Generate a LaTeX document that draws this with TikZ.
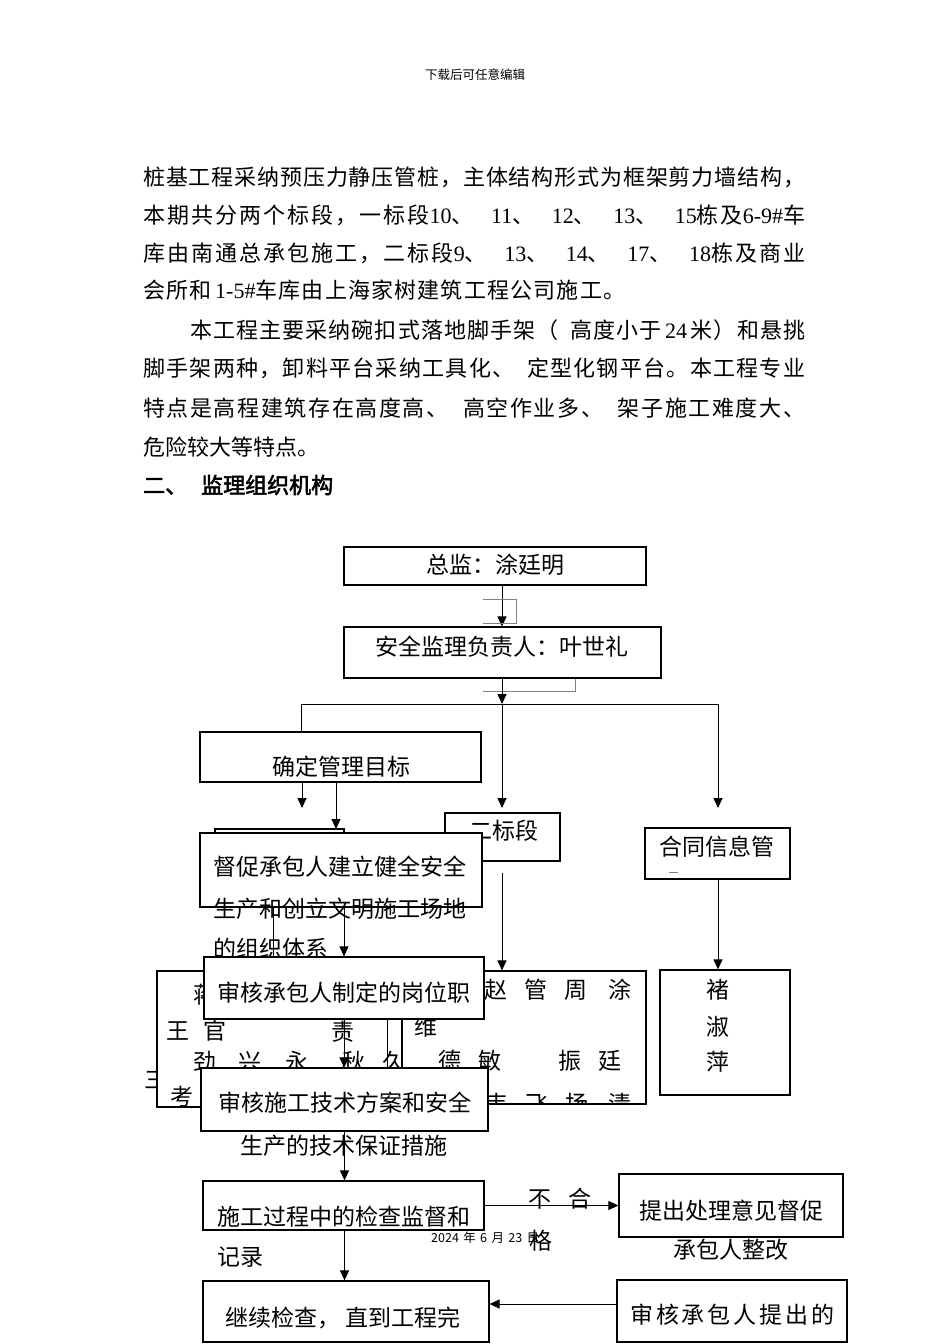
\documentclass[tikz,border=0pt]{standalone}
\usepackage{fontspec}
\setmainfont{Liberation Serif}
\newfontfamily\cjk{Noto Sans CJK SC}
\newfontfamily\cjkb{Noto Sans CJK SC}[FakeBold=2.5]
\usetikzlibrary{arrows.meta}
\newcommand\nm[1]{{\rmfamily #1}}
\newXeTeXintercharclass\mycjkclass
\count255="4E00
\loop
  \XeTeXcharclass\count255=\mycjkclass
  \advance\count255 by 1
\ifnum\count255<"A000 \repeat
\XeTeXcharclass"3001=\mycjkclass
\XeTeXcharclass"3002=\mycjkclass
\XeTeXcharclass"FF0C=\mycjkclass
\XeTeXcharclass"FF08=\mycjkclass
\XeTeXcharclass"FF09=\mycjkclass
\XeTeXcharclass"FF1A=\mycjkclass
\XeTeXinterchartoks\mycjkclass\mycjkclass={\hskip0pt plus 0.4pt\relax}
\XeTeXinterchartoks\mycjkclass 0={\hskip0pt plus 0.4pt\relax}
\XeTeXinterchartoks 0\mycjkclass={\hskip0pt plus 0.4pt\relax}
\XeTeXinterchartokenstate=1
\begin{document}
\begin{tikzpicture}[x=1pt,y=-1pt,
  box/.style={draw,line width=1.2pt,fill=white,inner sep=0pt},
  T/.style={inner sep=0pt,text height={0.88*#1pt},text depth={0.12*#1pt},font=\cjk\fontsize{#1}{#1}\selectfont},
  T/.default=23,
  body/.style={T=22,anchor=west},
  arr/.style={line width=1pt,-{Triangle[length=10pt,width=9pt]}},
  ln/.style={line width=1pt},
  gr/.style={line width=1pt,draw=gray}]
\useasboundingbox[fill=white] (0,0) rectangle (950,1344);

% header and body
\node[T=12.5] (hdr) at (475,75) {下载后可任意编辑};
\node[body] (l1) at (143,177) {\makebox[662pt][s]{桩基工程采纳预压力静压管桩，主体结构形式为框架剪力墙结构，}};
\node[body] (l2) at (143,215) {\makebox[662pt][s]{本期共分两个标段，一标段\nm{10}、 \nm{11}、 \nm{12}、 \nm{13}、 \nm{15}栋及\nm{6-9\#}车}};
\node[body] (l3) at (143,253) {\makebox[662pt][s]{库由南通总承包施工，二标段\nm{9}、 \nm{13}、 \nm{14}、 \nm{17}、 \nm{18}栋及商业}};
\node[body] (l4) at (143,290) {\makebox[482pt][s]{会所和\,\nm{1-5\#}车库由上海家树建筑工程公司施工。}};
\node[body] (l5) at (190,330) {\makebox[615pt][s]{本工程主要采纳碗扣式落地脚手架（ 高度小于\,\nm{24}\,米）和悬挑}};
\node[body] (l6) at (143,368) {\makebox[662pt][s]{脚手架两种，卸料平台采纳工具化、 定型化钢平台。本工程专业}};
\node[body] (l7) at (143,408) {\makebox[662pt][s]{特点是高程建筑存在高度高、 高空作业多、 架子施工难度大、}};
\node[body] (l8) at (143,447) {危险较大等特点。};
\node[body,font=\cjkb\fontsize{22}{22}\selectfont] (l9) at (143,485) {二、\hspace{14pt}监理组织机构};
\node[T] (san) at (156,1080) {三};

% name boxes (behind)
\node[box,minimum width=245pt,minimum height=136pt] (lr) at (279.5,1039) {};
\node[box,minimum width=244pt,minimum height=133pt] (mr) at (524,1037.5) {};
\node[box,minimum width=130pt,minimum height=125pt] (rr) at (725,1032.5) {};
\begin{scope}
\clip (lr.north west) rectangle (lr.south east);
\node[T] (n1) at (205,995) {蒋};
\node[T] (n2) at (178,1031) {王};
\node[T] (n3) at (215,1031) {官};
\node[T] (n4) at (205,1062) {劲};
\node[T] (n5) at (250,1062) {兴};
\node[T] (n6) at (297,1062) {永};
\node[T] (n7) at (354,1062) {秋};
\node[T] (n8) at (394,1062) {久};
\node[T] (n9) at (182,1097) {考};
\end{scope}
\begin{scope}
\clip (mr.north west) rectangle (mr.south east);
\node[T] (m1) at (496,990) {赵};
\node[T] (m2) at (536,990) {管};
\node[T] (m3) at (576,990) {周};
\node[T] (m4) at (620,990) {涂};
\node[T] (m5) at (426,1027) {维};
\node[T] (m6) at (450,1061) {德};
\node[T] (m7) at (490,1061) {敏};
\node[T] (m8) at (570,1061) {振};
\node[T] (m9) at (610,1061) {廷};
\node[T] (m10) at (497,1104) {韦};
\node[T] (m11) at (537,1104) {飞};
\node[T] (m12) at (577,1104) {扬};
\node[T] (m13) at (620,1104) {清};
\end{scope}
\node[T] (r1) at (718,990) {褚};
\node[T] (r2) at (718,1027) {淑};
\node[T] (r3) at (718,1062) {萍};

% upper boxes
\node[box,minimum width=302pt,minimum height=38pt] (zj) at (495,566) {};
\node[T] at (zj.center) [yshift=1pt] (zjt) {总监：涂廷明};
\node[box,minimum width=317pt,minimum height=51pt] (aq) at (502.5,652.5) {};
\node[T] (aqt) at (502,647) {安全监理负责人：叶世礼};
\node[box,minimum width=281pt,minimum height=50pt] (qd) at (340.5,757) {};
\node[T] (qdt) at (341,767) {确定管理目标};
\node[box,minimum width=115pt,minimum height=48pt] (eb) at (502.5,837) {};
\node[T] (ebt) at (504,831) {二标段};
\node[box,minimum width=145pt,minimum height=51pt] (ht) at (717.5,853.5) {};
\node[T] (htt) at (717,847) {合同信息管};
\coordinate (d1) at (669,872);
\coordinate (d2) at (678,872);
\draw[line width=1pt,gray] (d1) -- (d2);

\node[box,minimum width=129pt,minimum height=21pt] (sm) at (279.5,839.5) {};
\node[box,minimum width=282pt,minimum height=74pt] (dc) at (341,870) {};
\node[T,anchor=west] (dc1) at (213,867) {督促承包人建立健全安全};
\node[T,anchor=west] (dc2) at (213,909) {生产和创立文明施工场地};
\node[T,anchor=west] (dc3) at (213,949) {的组织体系};

\node[box,minimum width=280pt,minimum height=62pt] (sh1) at (344,988) {};
\node[T] (sh1a) at (344,993) {审核承包人制定的岗位职};
\node[T] (sh1b) at (343,1032) {责};
\node[box,minimum width=287pt,minimum height=63pt] (sh2) at (344.5,1099.5) {};
\node[T] (sh2a) at (345,1103) {审核施工技术方案和安全};
\node[T] (sh2b) at (344,1146) {生产的技术保证措施};

\node[box,minimum width=281pt,minimum height=49pt] (sg) at (343.5,1205.5) {};
\node[T,anchor=west] (sga) at (217,1217) {施工过程中的检查监督和};
\node[T,anchor=west] (sgb) at (217,1257) {记录};
\node[box,minimum width=224pt,minimum height=63pt] (tc) at (731,1205.5) {};
\node[T] (tca) at (731,1211) {提出处理意见督促};
\node[T] (tcb) at (731,1250) {承包人整改};
\node[box,minimum width=286pt,minimum height=61pt] (jx) at (346,1311.5) {};
\node[T,anchor=west] (jxt) at (225,1318) {继续检查， 直到工程完};
\node[box,minimum width=230pt,minimum height=62pt] (sc) at (732,1311) {};
\node[T,anchor=west] (sct) at (630,1315) {\makebox[204pt][s]{审\hfill 核\hfill 承\hfill 包\hfill 人\hfill 提\hfill 出\hfill 的}};

\node[T] (bu) at (540,1199) {不};
\node[T] (he) at (580,1199) {合};
\node[T=12.5,anchor=west] (date) at (431,1238) {\makebox[108pt][s]{2024 年 6 月 23 日}};
\node[T] (ge) at (541,1241) {格};

% coordinates
\coordinate (g1) at (483,599);
\coordinate (g2) at (516,599);
\coordinate (g3) at (516,623);
\coordinate (g4) at (483,623);
\coordinate (g5) at (575,691);
\coordinate (g6) at (483,691);
\coordinate (h1) at (301,704);
\coordinate (h2) at (718,704);
\coordinate (hm) at (502,704);
\coordinate (t2) at (502,808);
\coordinate (t3) at (718,808);
\coordinate (a1) at (302,808);
\coordinate (a2) at (336,829);
\coordinate (b1) at (273,957);
\coordinate (e1) at (502,873);
\coordinate (k1) at (387,1019);
\coordinate (q1) at (718,879);
\coordinate (p1) at (617,1304);

% connectors
\draw[arr] (zj.south -| hm) -- (aq.north -| hm);
\draw[gr] (g1) -- (g2) -- (g3) -- (g4);
\draw[gr] (aq.south -| g5) -- (g5) -- (g6);
\draw[arr] (aq.south -| hm) -- (hm);
\draw[ln] (h1) -- (h2);
\draw[ln] (h1) -- (qd.north -| h1);
\draw[arr] (hm) -- (t2);
\draw[arr] (h2) -- (t3);
\draw[arr] (qd.south -| a1) -- (a1);
\draw[arr] (qd.south -| a2) -- (a2);
\draw[ln] (dc.south -| b1) -- (b1);
\draw[arr] (dc.south -| sh1.north) -- (sh1.north);
\draw[arr] (e1) -- (mr.north -| e1);
\draw[arr] (q1) -- (rr.north -| q1);
\draw[ln] (k1) -- (sh2.north -| k1);
\draw[arr] (sh1.south) -- (sh2.north -| sh1.south);
\draw[arr] (sh2.south) -- (sg.north -| sh2.south);
\draw[arr] (sg.south -| sh2.south) -- (jx.north -| sh2.south);
\draw[arr] (sg.east) -- (tc.west);
\draw[arr] (p1) -- (jx.east |- p1);
\end{tikzpicture}
\end{document}
